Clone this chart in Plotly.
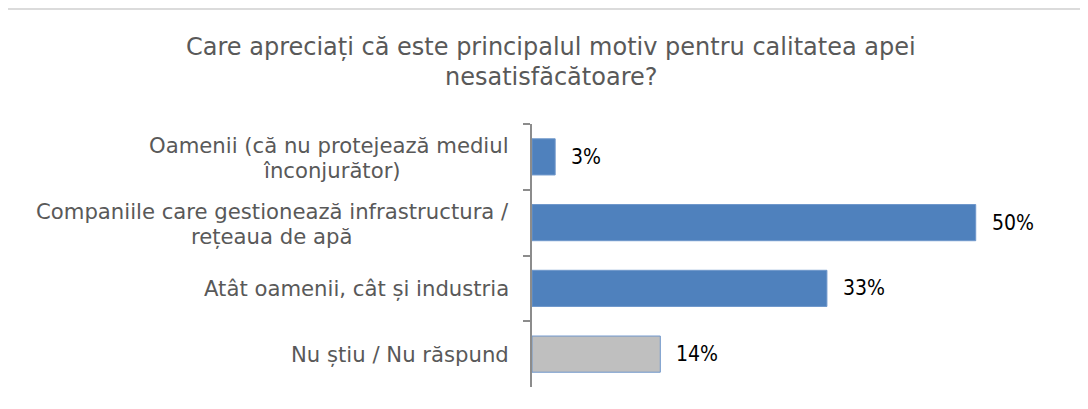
import plotly.graph_objects as go

categories = [
    "Oamenii (că nu protejează mediul<br>înconjurător)",
    "Companiile care gestionează infrastructura /<br>rețeaua de apă",
    "Atât oamenii, cât și industria",
    "Nu știu / Nu răspund",
]
values = [2.6, 49.8, 33.1, 14.4]
value_labels = ["3%", "50%", "33%", "14%"]
bar_colors = ["#4F81BD", "#4F81BD", "#4F81BD", "#BFBFBF"]
title_lines = [
    "Care apreciați că este principalul motiv pentru calitatea apei",
    "nesatisfăcătoare?",
]

# layout helpers (pixel positions in the 1088x409 page)
second_line_centers = [332, 271, None, None]

OFF = 8  # page body margin
W, H = 1080, 401
L, R, T, B = 524, 28, 116, 22
pw, ph = W - L - R, H - T - B

def px_x(px):
    return (px - OFF - L) / pw

def px_y(py):
    return (H - B - (py - OFF)) / ph

LABEL_FONT = dict(family="DejaVu Sans", size=21.2, color="#595959")
TITLE_FONT = dict(family="DejaVu Sans", size=24, color="#595959")
VALUE_FONT = dict(family="Liberation Sans Narrow, DejaVu Sans Condensed", size=21, color="#000000")

fig = go.Figure()
fig.add_trace(go.Bar(
    x=values, y=categories, orientation="h",
    marker=dict(color=bar_colors, line=dict(color="#6F97CB", width=1)),
    hoverinfo="skip",
))

annotations = []
for c, v, lab, cx in zip(categories, values, value_labels, second_line_centers):
    annotations.append(dict(
        x=v, y=c, xref="x", yref="y", text=lab, showarrow=False,
        xanchor="left", yanchor="middle", xshift=14,
        font=VALUE_FONT,
    ))
    lines = c.split("<br>")
    if len(lines) == 1:
        annotations.append(dict(
            x=px_x(511), y=c, xref="paper", yref="y", text=lines[0],
            showarrow=False, xanchor="right", yanchor="middle",
            font=LABEL_FONT,
        ))
    else:
        annotations.append(dict(
            x=px_x(511), y=c, xref="paper", yref="y", text=lines[0],
            showarrow=False, xanchor="right", yanchor="middle", yshift=11.5,
            font=LABEL_FONT,
        ))
        annotations.append(dict(
            x=px_x(cx), y=c, xref="paper", yref="y", text=lines[1],
            showarrow=False, xanchor="center", yanchor="middle", yshift=-14,
            font=LABEL_FONT,
        ))

for line, yc in zip(title_lines, [47, 77]):
    annotations.append(dict(
        x=px_x(551), y=px_y(yc), xref="paper", yref="paper", text=line,
        showarrow=False, xanchor="center", yanchor="middle",
        font=TITLE_FONT,
    ))

fig.update_layout(
    width=W, height=H,
    margin=dict(l=L, r=R, t=T, b=B, pad=0),
    paper_bgcolor="white", plot_bgcolor="white",
    showlegend=False,
    bargap=0.45,
    annotations=annotations,
    xaxis=dict(range=[0, pw / 8.91], visible=False, fixedrange=True),
    yaxis=dict(
        autorange="reversed", showticklabels=False, showgrid=False,
        showline=True, linecolor="#8C8C8C", linewidth=1.5,
        ticks="outside", tickson="boundaries", ticklen=7,
        tickcolor="#8C8C8C", tickwidth=1.5, zeroline=False,
    ),
    shapes=[
        dict(type="rect", xref="paper", yref="paper",
             x0=px_x(5), x1=px_x(1300), y0=px_y(600), y1=px_y(9),
             line=dict(color="#D0D0D0", width=1.5), fillcolor="rgba(0,0,0,0)",
             layer="below"),
    ],
)

fig.write_html("out.html")
